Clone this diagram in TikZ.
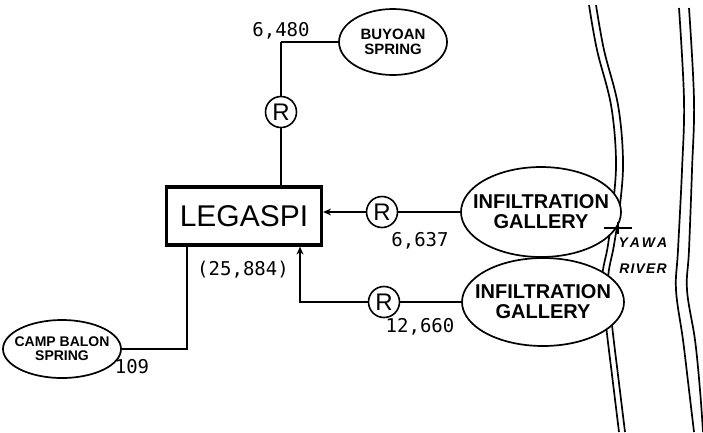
\documentclass[tikz,border=0pt]{standalone}
\usepackage{fontspec}
\setmainfont{Liberation Sans}
\setsansfont{Liberation Sans}
\newfontfamily\flowfont{DejaVu Sans Mono}
\usetikzlibrary{shapes.geometric, positioning, arrows.meta}

\begin{document}
\begin{tikzpicture}[x=1pt, y=-1pt,
        every node/.style={font=\sffamily},
        source/.style={ellipse, draw, fill=white, line width=1.7pt, inner xsep=-20pt, inner ysep=-5pt, align=center, font=\sffamily\bfseries\fontsize{#1}{#1}\selectfont},
        valve/.style={circle, draw, line width=1.6pt, minimum size=31pt, inner sep=0pt, font=\sffamily\fontsize{24}{24}\selectfont},
        flow/.style={font=\flowfont\fontsize{19}{19}\selectfont},
        pipe/.style={line width=2.6pt},
        feed/.style={line width=1.2pt},
        arrow/.style={-{Stealth[length=8pt, width=7pt]}},
        bank/.style={line width=1.7pt}
    ]
    \useasboundingbox (0,0) rectangle (703,432);
%
    % Yawa river
    \draw[bank] plot[smooth, tension=0.6] coordinates {(589,5) (597,50) (611,105) (616,160) (613,205) (608,245) (602,280) (606,325) (612,375) (619,432)};
    \draw[bank] plot[smooth, tension=0.6] coordinates {(596,5) (604,50) (618,105) (623,160) (620,205) (614,245) (608,280) (612,325) (618,375) (625,432)};
    \draw[bank] plot[smooth, tension=0.6] coordinates {(679,8) (684,100) (682,170) (678,250) (676,290) (683,340) (689,390) (694,432)};
    \draw[bank] plot[smooth, tension=0.6] coordinates {(689,8) (694,100) (692,170) (689,250) (687,290) (695,340) (700,390) (703,432)};
    \node[font=\sffamily\bfseries\itshape\fontsize{14}{14}\selectfont\addfontfeatures{LetterSpace=20}] (yawa) at (643,243) {YAWA};
    \node[font=\sffamily\bfseries\itshape\fontsize{14}{14}\selectfont\addfontfeatures{LetterSpace=8}] (river) at (643,269) {RIVER};
%
    \node[source=15, minimum width=108pt, minimum height=66pt] (buyoan) at (393,42) {BUYOAN\\SPRING};
    \node[valve] (r1) at (281,112) {R};
    \node[draw, line width=3.2pt, minimum width=155pt, minimum height=58pt, font=\sffamily\fontsize{30}{30}\selectfont] (legaspi) at (244,216) {LEGASPI};
    \node[valve] (r2) at (382,212) {R};
    \node[source=20, minimum width=160pt, minimum height=90pt] (gal1) at (541,212) {INFILTRATION\\GALLERY};
    \node[source=20, minimum width=162pt, minimum height=88pt] (gal2) at (543,302) {INFILTRATION\\GALLERY};
    \node[valve] (r3) at (384,302) {R};
    \node[source=14, minimum width=118pt, minimum height=58pt] (campbalon) at (62,349) {CAMP BALON\\SPRING};
%
    \node[flow] (q1) at (281,31) {6,480};
    \node[flow] (q2) at (420,241) {6,637};
    \node[flow] (q3) at (420,327) {12,660};
    \node[flow] (q4) at (243,270) {(25,884)};
    \node[flow] (q5) at (132,367) {109};
%
    \coordinate (c1) at (r1 |- buyoan.west);
    \coordinate (c2) at (300,302);
    \coordinate (c3) at (187,349);
    \coordinate (intake) at (618,228);
%
    \draw[feed] (buyoan.west) -- (c1);
    \draw[pipe] (c1) -- (r1);
    \draw[pipe] (r1) -- (r1 |- legaspi.north);
    \draw[feed] (gal1.west) -- (r2);
    \draw[feed, arrow] (r2) -- (legaspi.east |- r2);
    \draw[pipe] (gal2.west) -- (r3);
    \draw[pipe, arrow] (r3) -- (c2) -- (c2 |- legaspi.south);
    \draw[pipe] (campbalon.east) -- (c3) -- (c3 |- legaspi.south);
    \draw[feed] ([xshift=-14pt]intake) -- ([xshift=14pt]intake);
    \draw[feed] ([yshift=-6pt]intake) -- ([yshift=6pt]intake);
%
\end{tikzpicture}
\end{document}
